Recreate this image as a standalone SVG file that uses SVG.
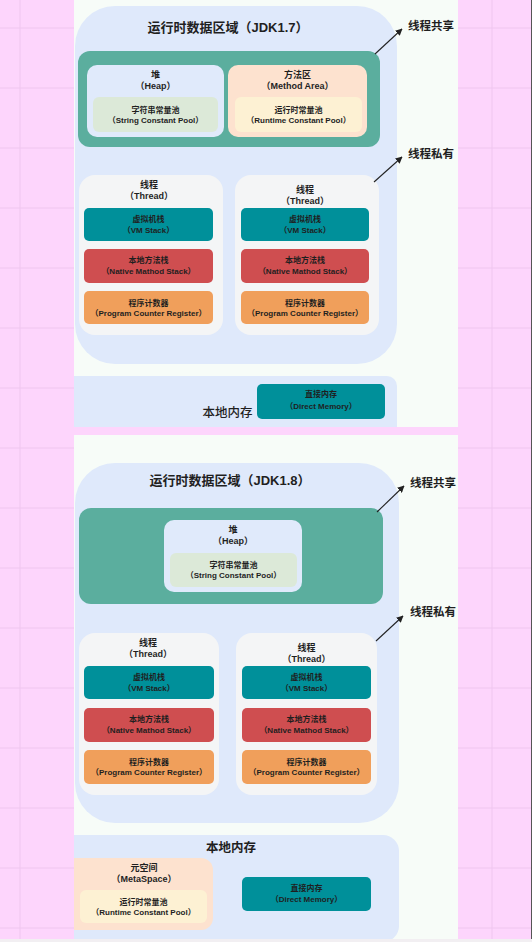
<svg xmlns="http://www.w3.org/2000/svg" width="532" height="942" viewBox="0 0 532 942">
<defs>
<style>
text{font-family:"Liberation Sans","Noto Sans CJK SC",sans-serif;fill:#1f1f1f;text-anchor:middle;dominant-baseline:central;font-weight:bold}
.t13{font-size:13px}
.t12{font-size:12.5px}
.side{font-size:11.5px;text-anchor:start}
.t9{font-size:9px}
.t8{font-size:8px}
.area{fill:#dfe9fb}
.teal{fill:#5bae9e}
.heap{fill:#e0eafb}
.spool{fill:#dce9d8}
.marea{fill:#fde2cf}
.rpool{fill:#fdf1d3}
.thread{fill:#f4f5f6}
.vm{fill:#00909a}
.native{fill:#cf4e50}
.pc{fill:#f09f5b}
.grid{stroke:#efc6ef;stroke-width:1}
.arrow{stroke:#222;stroke-width:1.1;fill:none;marker-end:url(#ah)}
</style>
<marker id="ah" viewBox="0 0 10 10" refX="9" refY="5" markerWidth="7" markerHeight="7" markerUnits="userSpaceOnUse" orient="auto">
<path d="M0,0 L10,5 L0,10 z" fill="#222"/>
</marker>
<clipPath id="clipTop"><rect x="74" y="0" width="384" height="427"/></clipPath>
<clipPath id="clipBot"><rect x="74" y="435" width="384" height="504"/></clipPath>
</defs>

<g id="background">
<rect x="0" y="0" width="532" height="942" fill="#fdd5fc"/>
<g class="grid">
<line x1="0" y1="28" x2="532" y2="28"/><line x1="0" y1="88" x2="532" y2="88"/>
<line x1="0" y1="148" x2="532" y2="148"/><line x1="0" y1="208" x2="532" y2="208"/>
<line x1="0" y1="268" x2="532" y2="268"/><line x1="0" y1="328" x2="532" y2="328"/>
<line x1="0" y1="388" x2="532" y2="388"/><line x1="0" y1="448" x2="532" y2="448"/>
<line x1="0" y1="508" x2="532" y2="508"/><line x1="0" y1="568" x2="532" y2="568"/>
<line x1="0" y1="628" x2="532" y2="628"/><line x1="0" y1="688" x2="532" y2="688"/>
<line x1="0" y1="748" x2="532" y2="748"/><line x1="0" y1="808" x2="532" y2="808"/>
<line x1="0" y1="868" x2="532" y2="868"/><line x1="0" y1="928" x2="532" y2="928"/>
<line x1="20" y1="0" x2="20" y2="942"/><line x1="492" y1="0" x2="492" y2="942"/>
</g>
<rect x="531" y="0" width="1" height="942" fill="#555"/>
<rect x="0" y="939" width="532" height="3" fill="#f2eff2"/>
<rect x="74" y="0" width="384" height="427" fill="#f7fcf8"/>
<rect x="74" y="435" width="384" height="504" fill="#f7fcf8"/>
</g>

<!-- ============ JDK 1.7 ============ -->
<g id="runtime-area-17">
<rect class="area" x="75" y="6" width="322" height="358" rx="40"/>
<text class="t13" x="228" y="27">运行时数据区域（JDK1.7）</text>
</g>
<g id="shared-17">
<rect class="teal" x="78" y="51" width="302" height="96" rx="12"/>
</g>
<g id="heap-17">
<rect class="heap" x="87" y="65" width="137" height="72" rx="10"/>
<text class="t9" x="155.5" y="75">堆</text>
<text class="t9" x="155.5" y="86">（Heap）</text>
</g>
<g id="string-pool-17">
<rect class="spool" x="93" y="97" width="125" height="35" rx="6"/>
<text class="t8" x="155.5" y="110">字符串常量池</text>
<text class="t8" x="155.5" y="120">（String Constant Pool）</text>
</g>
<g id="method-area-17">
<rect class="marea" x="228" y="65" width="139" height="72" rx="10"/>
<text class="t9" x="297.5" y="75">方法区</text>
<text class="t9" x="297.5" y="86">（Method Area）</text>
</g>
<g id="runtime-pool-17">
<rect class="rpool" x="235" y="97" width="127" height="35" rx="6"/>
<text class="t8" x="298.5" y="110">运行时常量池</text>
<text class="t8" x="298.5" y="120">（Runtime Constant Pool）</text>
</g>
<g id="thread1-17">
<rect class="thread" x="79" y="175" width="144" height="160" rx="16"/>
<text class="t9" x="149" y="185">线程</text>
<text class="t9" x="149" y="196">（Thread）</text>
</g>
<g id="vm1-17">
<rect class="vm" x="84" y="208" width="129" height="33" rx="5"/>
<text class="t8" x="148.5" y="219">虚拟机栈</text>
<text class="t8" x="148.5" y="230">（VM Stack）</text>
</g>
<g id="native1-17">
<rect class="native" x="84" y="249" width="129" height="34" rx="5"/>
<text class="t8" x="148.5" y="260.5">本地方法栈</text>
<text class="t8" x="148.5" y="271">（Native Mathod Stack）</text>
</g>
<g id="pc1-17">
<rect class="pc" x="84" y="291" width="129" height="33" rx="5"/>
<text class="t8" x="148.5" y="303">程序计数器</text>
<text class="t8" x="148.5" y="313.5">（Program Counter Register）</text>
</g>
<g id="thread2-17">
<rect class="thread" x="235" y="175" width="144" height="160" rx="16"/>
<text class="t9" x="305" y="190">线程</text>
<text class="t9" x="305" y="201">（Thread）</text>
</g>
<g id="vm2-17">
<rect class="vm" x="241" y="208" width="128" height="33" rx="5"/>
<text class="t8" x="305" y="219">虚拟机栈</text>
<text class="t8" x="305" y="230">（VM Stack）</text>
</g>
<g id="native2-17">
<rect class="native" x="241" y="249" width="128" height="34" rx="5"/>
<text class="t8" x="305" y="260.5">本地方法栈</text>
<text class="t8" x="305" y="271">（Native Mathod Stack）</text>
</g>
<g id="pc2-17">
<rect class="pc" x="241" y="291" width="128" height="33" rx="5"/>
<text class="t8" x="305" y="303">程序计数器</text>
<text class="t8" x="305" y="313.5">（Program Counter Register）</text>
</g>
<g id="native-memory-17">
<rect class="area" x="60" y="376" width="337" height="70" rx="10" clip-path="url(#clipTop)"/>
<text class="t12" x="227.5" y="413" style="font-weight:500">本地内存</text>
</g>
<g id="direct-memory-17">
<rect class="vm" x="257" y="384" width="128" height="35" rx="5"/>
<text class="t8" x="321" y="394.5">直接内存</text>
<text class="t8" x="321" y="406">（Direct Memory）</text>
</g>
<g id="label-shared-17"><text class="side" x="408" y="26">线程共享</text></g>
<g id="label-private-17"><text class="side" x="408" y="154">线程私有</text></g>

<!-- ============ JDK 1.8 ============ -->
<g id="runtime-area-18">
<rect class="area" x="75" y="463" width="324" height="360" rx="40"/>
<text class="t13" x="230" y="480">运行时数据区域（JDK1.8）</text>
</g>
<g id="shared-18">
<rect class="teal" x="79" y="508" width="304" height="96" rx="12"/>
</g>
<g id="heap-18">
<rect class="heap" x="164" y="520" width="138" height="72" rx="10"/>
<text class="t9" x="233" y="530">堆</text>
<text class="t9" x="233" y="541">（Heap）</text>
</g>
<g id="string-pool-18">
<rect class="spool" x="170" y="553" width="127" height="34" rx="6"/>
<text class="t8" x="233.5" y="565">字符串常量池</text>
<text class="t8" x="233.5" y="575">（String Constant Pool）</text>
</g>
<g id="thread1-18">
<rect class="thread" x="79" y="633" width="140" height="162" rx="16"/>
<text class="t9" x="148" y="643">线程</text>
<text class="t9" x="148" y="654">（Thread）</text>
</g>
<g id="vm1-18">
<rect class="vm" x="84" y="666" width="130" height="33" rx="5"/>
<text class="t8" x="149" y="677">虚拟机栈</text>
<text class="t8" x="149" y="688">（VM Stack）</text>
</g>
<g id="native1-18">
<rect class="native" x="84" y="708" width="130" height="34" rx="5"/>
<text class="t8" x="149" y="719.5">本地方法栈</text>
<text class="t8" x="149" y="730">（Native Mathod Stack）</text>
</g>
<g id="pc1-18">
<rect class="pc" x="84" y="750" width="130" height="34" rx="5"/>
<text class="t8" x="149" y="762">程序计数器</text>
<text class="t8" x="149" y="772.5">（Program Counter Register）</text>
</g>
<g id="thread2-18">
<rect class="thread" x="236" y="633" width="141" height="162" rx="16"/>
<text class="t9" x="306.5" y="648">线程</text>
<text class="t9" x="306.5" y="659">（Thread）</text>
</g>
<g id="vm2-18">
<rect class="vm" x="242" y="666" width="129" height="33" rx="5"/>
<text class="t8" x="306.5" y="677">虚拟机栈</text>
<text class="t8" x="306.5" y="688">（VM Stack）</text>
</g>
<g id="native2-18">
<rect class="native" x="242" y="708" width="129" height="34" rx="5"/>
<text class="t8" x="306.5" y="719.5">本地方法栈</text>
<text class="t8" x="306.5" y="730">（Native Mathod Stack）</text>
</g>
<g id="pc2-18">
<rect class="pc" x="242" y="750" width="129" height="34" rx="5"/>
<text class="t8" x="306.5" y="762">程序计数器</text>
<text class="t8" x="306.5" y="772.5">（Program Counter Register）</text>
</g>
<g id="native-memory-18">
<rect class="area" x="60" y="835" width="339" height="107" rx="16" clip-path="url(#clipBot)"/>
<text class="t12" x="231" y="848">本地内存</text>
</g>
<g id="metaspace-18">
<rect class="marea" x="60" y="858" width="153" height="72" rx="12" clip-path="url(#clipBot)"/>
<text class="t9" x="144" y="867.5">元空间</text>
<text class="t9" x="144" y="878.5">（MetaSpace）</text>
</g>
<g id="runtime-pool-18">
<rect class="rpool" x="80" y="890" width="127" height="33" rx="6"/>
<text class="t8" x="143.5" y="902">运行时常量池</text>
<text class="t8" x="143.5" y="912">（Runtime Constant Pool）</text>
</g>
<g id="direct-memory-18">
<rect class="vm" x="242" y="877" width="129" height="34" rx="5"/>
<text class="t8" x="306.5" y="888.5">直接内存</text>
<text class="t8" x="306.5" y="899.5">（Direct Memory）</text>
</g>
<g id="label-shared-18"><text class="side" x="410" y="483">线程共享</text></g>
<g id="label-private-18"><text class="side" x="410" y="612">线程私有</text></g>

<g id="connectors">
<line class="arrow" x1="375" y1="54" x2="402" y2="29"/>
<line class="arrow" x1="374" y1="182" x2="402" y2="157"/>
<line class="arrow" x1="377" y1="512" x2="404" y2="486"/>
<line class="arrow" x1="376" y1="641" x2="403" y2="616"/>
</g>
</svg>
